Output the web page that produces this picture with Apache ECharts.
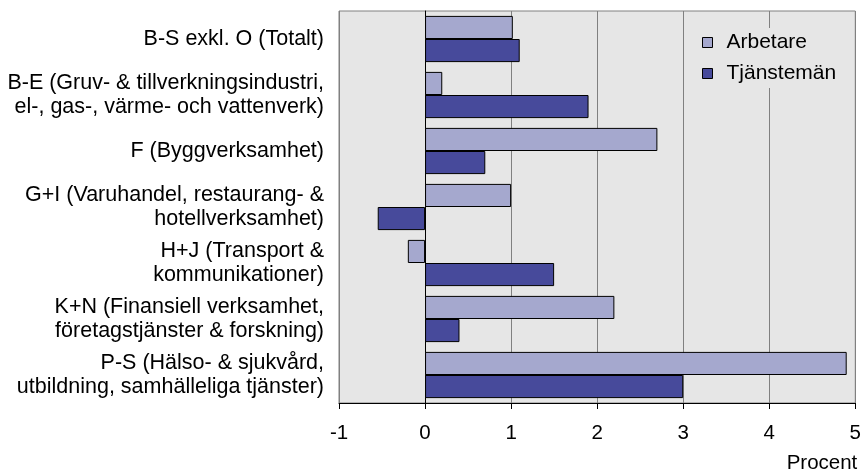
<!DOCTYPE html>
<html>
<head>
<meta charset="utf-8">
<script src="https://cdn.jsdelivr.net/npm/echarts@6/dist/echarts.min.js"></script>
<style>
  html, body { margin: 0; padding: 0; background: #fff; }
  #chart { width: 864px; height: 474px; }
</style>
</head>
<body>
<div id="chart"></div>
<script>
// kategorier (branscher), uppifrån och ned
var categories = [
  'B-S exkl. O (Totalt)',
  'B-E (Gruv- & tillverkningsindustri,\nel-, gas-, värme- och vattenverk)',
  'F (Byggverksamhet)',
  'G+I (Varuhandel, restaurang- &\nhotellverksamhet)',
  'H+J (Transport &\nkommunikationer)',
  'K+N (Finansiell verksamhet,\nföretagstjänster & forskning)',
  'P-S (Hälso- & sjukvård,\nutbildning, samhälleliga tjänster)'
];
var arbetare = [1.02, 0.2, 2.7, 1.0, -0.2, 2.2, 4.9];
var tjansteman = [1.1, 1.9, 0.7, -0.55, 1.5, 0.4, 3.0];
var xTicks = [-1, 0, 1, 2, 3, 4, 5];

var chart = echarts.init(document.getElementById('chart'));
chart.setOption({
    animation: false,
    textStyle: { fontFamily: 'Liberation Sans, Arial, sans-serif' },
    grid: {
        left: 339, right: 7, top: 11, bottom: 65,
        show: true,
        backgroundColor: '#e6e6e6',
        borderColor: '#808080',
        borderWidth: 1
    },
    legend: {
        orient: 'vertical',
        left: 696, top: 28,
        itemWidth: 10, itemHeight: 10,
        itemGap: 10,
        padding: [4, 8, 4, 6],
        backgroundColor: '#e6e6e6',
        icon: 'rect',
        itemStyle: { borderColor: '#000', borderWidth: 1 },
        textStyle: { fontSize: 21, color: '#000', padding: [0, 0, 0, 9] },
        data: ['Arbetare', 'Tjänstemän']
    },
    xAxis: {
        type: 'value',
        min: -1, max: 5, interval: 1,
        name: 'Procent',
        nameLocation: 'end',
        nameGap: 2,
        nameTextStyle: {
            fontSize: 20.5, color: '#000',
            align: 'right', verticalAlign: 'top',
            padding: [50, 0, 0, 0]
        },
        axisLine: { show: true, onZero: false, lineStyle: { color: '#000', width: 1 } },
        axisTick: { show: true, length: 6, inside: false, lineStyle: { color: '#000' } },
        axisLabel: {
            fontSize: 20.5, color: '#000', margin: 20,
            formatter: function (v) { return xTicks.indexOf(v) >= 0 ? String(v) : ''; }
        },
        splitLine: { show: true, lineStyle: { color: '#808080', width: 1 } }
    },
    yAxis: {
        type: 'category',
        inverse: true,
        data: categories,
        axisLine: { show: true, onZero: true, lineStyle: { color: '#000', width: 1 } },
        axisTick: { show: false },
        axisLabel: {
            fontSize: 21.5, color: '#000', lineHeight: 24,
            align: 'right', margin: 15, padding: [3, 0, 0, 0]
        },
        splitLine: { show: false }
    },
    series: [
        {
            name: 'Arbetare',
            type: 'bar',
            data: arbetare,
            barGap: '0%',
            barCategoryGap: '17.5%',
            itemStyle: { color: '#a5a8ce', borderColor: '#000', borderWidth: 1 }
        },
        {
            name: 'Tjänstemän',
            type: 'bar',
            data: tjansteman,
            barGap: '0%',
            barCategoryGap: '17.5%',
            itemStyle: { color: '#474a9b', borderColor: '#000', borderWidth: 1 }
        }
    ]
});
</script>
</body>
</html>
